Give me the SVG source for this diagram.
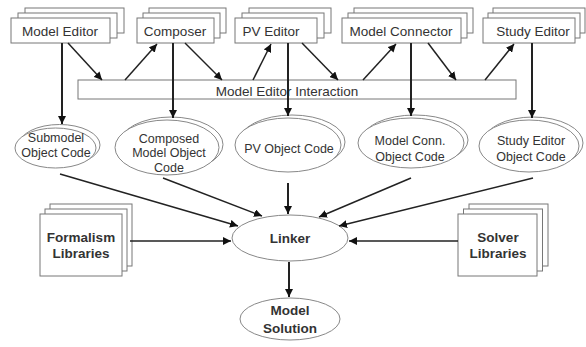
<svg xmlns="http://www.w3.org/2000/svg" width="586" height="347" viewBox="0 0 586 347">
<defs>
<marker id="ah" markerUnits="userSpaceOnUse" markerWidth="9" markerHeight="8" refX="8" refY="4" orient="auto">
<path d="M0,0 L8,4 L0,8 Z" fill="#111"/>
</marker>
<style>
.box{fill:#fff;stroke:#777;stroke-width:1}
.ell{fill:#fff;stroke:#888;stroke-width:1}
.t{font-family:"Liberation Sans",Arial,sans-serif;font-size:13.5px;fill:#333;text-anchor:middle}
.s{font-family:"Liberation Sans",Arial,sans-serif;font-size:12.5px;fill:#333;text-anchor:middle}
.b{font-family:"Liberation Sans",Arial,sans-serif;font-size:13.5px;font-weight:bold;fill:#333;text-anchor:middle}
.ln{stroke:#222;stroke-width:1.5;fill:none;marker-end:url(#ah)}
.vl{stroke:#222;stroke-width:2;fill:none;marker-end:url(#ah)}
</style>
</defs>
<rect width="586" height="347" fill="#fff"/>

<g id="interaction">
<rect class="box" x="78" y="80" width="438" height="19"/>
<text class="t" x="287" y="96">Model Editor Interaction</text>
</g>

<g id="model-editor">
<rect class="box" x="25" y="8" width="99" height="25"/>
<rect class="box" x="18" y="13" width="99" height="25"/>
<rect class="box" x="11" y="18" width="99" height="25"/>
<text class="t" x="60" y="36">Model Editor</text>
</g>
<g id="composer">
<rect class="box" x="149" y="8" width="77" height="25"/>
<rect class="box" x="143" y="13" width="77" height="25"/>
<rect class="box" x="137" y="18" width="77" height="25"/>
<text class="t" x="175" y="36">Composer</text>
</g>
<g id="pv-editor">
<rect class="box" x="249" y="8" width="82" height="25"/>
<rect class="box" x="242" y="13" width="82" height="25"/>
<rect class="box" x="235" y="18" width="82" height="25"/>
<text class="t" x="271" y="36">PV Editor</text>
</g>
<g id="model-connector">
<rect class="box" x="354" y="8" width="119" height="25"/>
<rect class="box" x="348" y="13" width="119" height="25"/>
<rect class="box" x="342" y="18" width="119" height="25"/>
<text class="t" x="401" y="36">Model Connector</text>
</g>
<g id="study-editor">
<rect class="box" x="493" y="8" width="92" height="25"/>
<rect class="box" x="488" y="13" width="92" height="25"/>
<rect class="box" x="483" y="18" width="92" height="25"/>
<text class="t" x="533" y="36">Study Editor</text>
</g>

<g id="submodel-code">
<ellipse class="ell" cx="59.5" cy="145" rx="40.5" ry="20.5"/>
<ellipse class="ell" cx="55.5" cy="148" rx="40.5" ry="20"/>
<text class="s" x="56" y="142">Submodel</text>
<text class="s" x="56" y="157">Object Code</text>
</g>
<g id="composed-code">
<ellipse class="ell" cx="171" cy="144.5" rx="52" ry="27.5"/>
<ellipse class="ell" cx="167" cy="147.5" rx="52" ry="27.5"/>
<text class="s" x="169" y="143">Composed</text>
<text class="s" x="169" y="157">Model Object</text>
<text class="s" x="169" y="172">Code</text>
</g>
<g id="pv-code">
<ellipse class="ell" cx="292" cy="142" rx="53" ry="27"/>
<ellipse class="ell" cx="288" cy="145" rx="53" ry="27"/>
<text class="s" x="289" y="153">PV Object Code</text>
</g>
<g id="conn-code">
<ellipse class="ell" cx="415" cy="140" rx="53" ry="25"/>
<ellipse class="ell" cx="411" cy="143" rx="53" ry="25"/>
<text class="s" x="410" y="145">Model Conn.</text>
<text class="s" x="410" y="161">Object Code</text>
</g>
<g id="study-code">
<ellipse class="ell" cx="533" cy="143" rx="50" ry="26"/>
<ellipse class="ell" cx="529" cy="146" rx="50" ry="26"/>
<text class="s" x="531" y="145">Study Editor</text>
<text class="s" x="531" y="161">Object Code</text>
</g>

<g id="linker">
<ellipse class="ell" cx="290" cy="238" rx="58" ry="23"/>
<text class="b" x="290" y="243">Linker</text>
</g>
<g id="model-solution">
<ellipse class="ell" cx="290" cy="319" rx="50" ry="21"/>
<text class="b" x="290" y="315">Model</text>
<text class="b" x="290" y="333">Solution</text>
</g>
<g id="formalism">
<rect class="box" x="50" y="204" width="82" height="62"/>
<rect class="box" x="45" y="209" width="82" height="62"/>
<rect class="box" x="40" y="214" width="82" height="62"/>
<text class="b" x="81" y="242">Formalism</text>
<text class="b" x="81" y="258">Libraries</text>
</g>
<g id="solver">
<rect class="box" x="469" y="204" width="79" height="62"/>
<rect class="box" x="463.5" y="209" width="79" height="62"/>
<rect class="box" x="458" y="214" width="79" height="62"/>
<text class="b" x="498" y="242">Solver</text>
<text class="b" x="498" y="258">Libraries</text>
</g>

<g id="connectors">
<line class="ln" x1="68" y1="43" x2="102" y2="80"/>
<line class="ln" x1="125" y1="80" x2="157" y2="44"/>
<line class="ln" x1="185" y1="43" x2="222" y2="80"/>
<line class="ln" x1="253" y1="80" x2="271" y2="44"/>
<line class="ln" x1="302" y1="43" x2="338" y2="80"/>
<line class="ln" x1="363" y1="80" x2="396" y2="44"/>
<line class="ln" x1="428" y1="43" x2="456" y2="80"/>
<line class="ln" x1="485" y1="80" x2="514" y2="44"/>
<line class="vl" x1="62" y1="43" x2="62" y2="124"/>
<line class="vl" x1="173" y1="43" x2="173" y2="118"/>
<line class="vl" x1="288" y1="43" x2="288" y2="116"/>
<line class="vl" x1="411" y1="43" x2="411" y2="116"/>
<line class="vl" x1="532" y1="43" x2="532" y2="118"/>
<line class="ln" x1="60" y1="174" x2="238" y2="226"/>
<line class="ln" x1="163" y1="178" x2="262" y2="216"/>
<line class="vl" x1="288" y1="183" x2="288" y2="214"/>
<line class="ln" x1="411" y1="178" x2="319" y2="217"/>
<line class="ln" x1="533" y1="178" x2="339" y2="226"/>
<line class="ln" x1="130" y1="241" x2="231" y2="241"/>
<line class="ln" x1="458" y1="241" x2="349" y2="241"/>
<line class="vl" x1="289" y1="262" x2="289" y2="297"/>
</g>
</svg>
